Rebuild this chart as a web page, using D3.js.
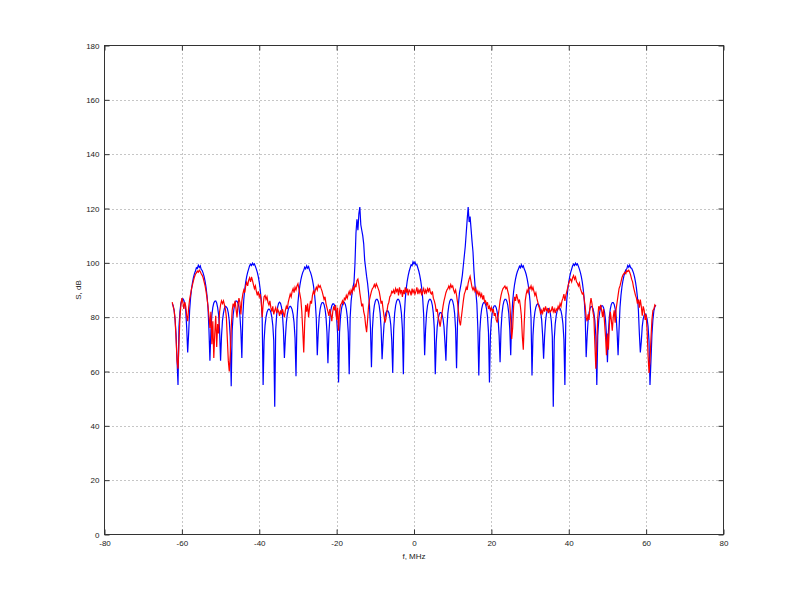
<!DOCTYPE html>
<html><head><meta charset="utf-8">
<script src="https://cdn.jsdelivr.net/npm/d3@7"></script>
<style>body{margin:0;background:#fff}svg{display:block}</style>
</head><body>
<svg id="c" width="799" height="600"></svg>
<script>
// sample grid of the spectra (MHz)
const freqStart = -62.5;
const freqStep = 0.25;

// blue spectrum, dB (one value per 0.25 MHz from -62.5 to 62.5)
const blueS = [
 85.0, 84.2, 82.5, 79.0, 73.5, 64.0, 55.0,
 76.5, 82.0, 85.2, 86.5, 86.8, 86.2, 85.0, 82.3, 76.0,
 67.0,
 74.0, 82.4, 87.2, 90.4, 92.8, 94.6, 96.0, 97.0, 98.2, 97.9, 99.1, 98.3, 98.9, 97.6, 97.2, 96.2, 94.9, 93.2, 91.0, 87.9, 83.5, 75.4,
 64.0,
 75.0, 80.7, 83.6, 85.2, 85.9, 86.0, 85.2, 83.5, 80.8, 75.2,
 64.0,
 73.2, 78.8, 81.5, 83.3, 84.0, 83.8, 83.2, 81.6, 78.7, 73.0,
 54.6,
 75.0, 80.8, 83.5, 85.3, 86.0, 85.9, 85.1, 83.7, 80.6, 75.0,
 65.0,
 80.4, 86.5, 90.2, 92.9, 94.9, 96.5, 97.7, 98.9, 99.5, 99.0, 99.9, 99.2, 99.6, 98.7, 97.7, 96.5, 94.9, 92.9, 90.2, 86.5, 80.4,
 55.0,
 71.3, 77.0, 80.0, 81.8, 82.7, 83.0, 82.7, 81.8, 80.0, 77.0, 71.3,
 47.0,
 75.3, 80.9, 83.7, 85.1, 85.5, 85.1, 83.7, 80.9, 75.3,
 65.0,
 72.3, 78.0, 81.0, 82.8, 83.7, 84.0, 83.7, 82.8, 81.0, 78.0, 72.3,
 58.3,
 79.2, 85.3, 89.0, 91.7, 93.7, 95.3, 96.5, 97.3, 98.4, 97.8, 98.9, 98.0, 98.6, 97.3, 96.5, 95.3, 93.7, 91.7, 89.0, 85.3, 79.2,
 66.0,
 74.5, 80.2, 83.1, 84.7, 85.4, 85.4, 84.7, 83.1, 80.2, 74.5,
 63.0,
 74.0, 79.7, 82.6, 84.2, 84.9, 84.9, 84.2, 82.6, 79.7, 74.0,
 56.0,
 74.5, 80.2, 83.1, 84.7, 85.4, 85.4, 84.7, 83.1, 80.2, 74.5,
 59.0,
 80, 86, 89, 91, 93, 100, 111, 116, 112, 118, 120.5, 114, 112, 110, 107, 101, 98, 95, 92.5, 89, 84, 76,
 61.6,
 75.7, 81.4, 84.3, 85.9, 86.6, 86.6, 85.9, 84.3, 81.4, 75.7,
 64.5,
 71.4, 77.1, 80.0, 81.6, 82.3, 82.3, 81.6, 80.0, 77.1, 71.4,
 59.5,
 75.7, 81.4, 84.3, 85.9, 86.6, 86.6, 85.9, 84.3, 81.4, 75.7,
 59.0,
 80.8, 86.9, 90.6, 93.3, 95.3, 96.9, 98.1, 99.3, 99.0, 100.4, 99.6, 100.3, 99.2, 99.3, 98.1, 96.9, 95.3, 93.3, 90.6, 86.9, 80.8,
 66.0,
 75.7, 81.4, 84.3, 85.9, 86.6, 86.6, 85.9, 84.3, 81.4, 75.7,
 59.0,
 70.8, 76.5, 79.4, 81.0, 81.7, 81.7, 81.0, 79.4, 76.5, 70.8,
 64.0,
 75.7, 81.4, 84.3, 85.9, 86.6, 86.6, 85.9, 84.3, 81.4, 75.7,
 61.2,
 78, 85, 89, 91, 93, 95.5, 99, 102.5, 106, 111, 116, 120.5, 115, 117, 112.5, 108, 104, 97, 92, 89, 85, 76,
 58.5,
 74.5, 80.2, 83.1, 84.7, 85.4, 85.4, 84.7, 83.1, 80.2, 74.5,
 56.0,
 73.3, 79.0, 81.9, 83.5, 84.2, 84.2, 83.5, 81.9, 79.0, 73.3,
 63.4,
 75.7, 81.4, 84.3, 85.9, 86.6, 86.6, 85.9, 84.3, 81.4, 75.7,
 66.0,
 79.6, 85.7, 89.4, 92.1, 94.1, 95.7, 96.9, 97.7, 98.8, 98.2, 99.3, 98.4, 98.9, 97.7, 96.9, 95.7, 94.1, 92.1, 89.4, 85.7, 79.6,
 58.5,
 73.2, 78.9, 81.9, 83.7, 84.6, 84.9, 84.6, 83.7, 81.9, 78.9, 73.2,
 64.7,
 72.9, 78.5, 81.3, 82.7, 83.1, 82.7, 81.3, 78.5, 72.9,
 47.0,
 71.8, 77.5, 80.5, 82.3, 83.2, 83.5, 83.2, 82.3, 80.5, 77.5, 71.8,
 55.0,
 80.4, 86.5, 90.2, 92.9, 94.9, 96.5, 97.7, 98.9, 99.5, 99.0, 99.9, 99.2, 99.6, 98.7, 97.7, 96.5, 94.9, 92.9, 90.2, 86.5, 80.4,
 65.3,
 73.0, 78.7, 81.6, 83.2, 83.9, 83.9, 83.2, 81.6, 78.7, 73.0,
 55.0,
 73.3, 79.0, 81.9, 83.5, 84.2, 84.2, 83.5, 81.9, 79.0, 73.3,
 63.4,
 74.5, 80.2, 83.1, 84.7, 85.4, 85.4, 84.7, 83.1, 80.2, 74.5,
 66.0,
 75.6, 83.7, 88.1, 91.2, 93.4, 95.1, 96.4, 97.4, 97.8, 99.0, 98.4, 99.2, 98.2, 98.0, 97.2, 96.2, 94.8, 93.0, 90.6, 87.4, 82.6, 74.0,
 67.0,
 71.0, 76.6, 79.4, 80.8, 81.2, 80.8, 79.4, 76.6, 71.0,
 55.0,
 64.0, 73.5, 79.0, 82.3, 83.8, 84.5
];

// red spectrum, dB (same sample grid)
const redS = [
 85.5, 84.0, 82.5, 79.0,  72.0, 64.0, 61.0, 70.5,  80.0, 84.5, 87.0, 85.5,  83.0, 85.5, 84.0, 80.5,
 78.5, 83.5, 86.5, 88.5,  90.5, 92.0, 93.5, 94.8,  95.8, 96.3, 97.0, 96.6,  97.3, 96.8, 96.0, 95.4,
 94.5, 93.0, 91.5, 89.5,  87.0, 84.0, 80.5, 76.0,  82.0, 70.0, 78.5, 65.0,  74.0, 80.5, 69.0, 77.5,
 74.0, 82.0, 84.5, 86.0,  85.0, 86.0, 84.5, 83.0,  80.0, 72.0, 64.0, 60.0,  66.0, 76.0, 82.5, 85.0,
 84.0, 86.0, 83.0, 80.0,  84.5, 87.0, 85.5, 81.0,  86.0, 88.5, 90.0, 89.0,  91.5, 92.8, 91.5, 93.5,
 94.5, 93.0, 94.8, 93.5,  92.0, 90.5, 91.5, 89.5,  88.0, 89.5, 87.5, 88.5,  86.0, 80.0, 84.5, 87.5,
 88.0, 86.5, 87.5, 85.5,  84.5, 86.0, 83.5, 82.0,  84.0, 81.0, 82.5, 83.5,  81.5, 83.0, 82.0, 80.5,
 82.5, 81.0, 83.0, 81.5,  80.0, 82.5, 84.0, 83.0,  85.5, 87.0, 88.5, 87.5,  89.5, 90.5, 89.0, 91.0,
 90.0, 91.5, 92.3, 90.5,  88.5, 86.5, 82.0, 75.0,  67.0, 78.0, 84.5, 82.0,  85.0, 80.0, 83.5, 86.0,
 85.0, 88.0, 89.5, 88.5,  90.0, 91.0, 90.0, 91.8,  91.0, 91.6, 90.5, 89.5,  88.0, 86.5, 87.5, 85.0,
 83.5, 82.0, 80.5, 83.0,  81.0, 78.5, 82.0, 84.0,  82.5, 84.5, 79.0, 83.5,  75.0, 82.0, 84.5, 85.0,
 86.0, 85.0, 87.0, 86.5,  88.0, 87.0, 88.5, 89.5,  88.0, 90.0, 89.0, 91.0,  90.0, 92.0, 91.0, 93.5,
 94.0, 92.0, 89.0, 86.5,  84.0, 85.0, 82.0, 80.5,  77.0, 74.5, 79.0, 84.0,  86.5, 88.0, 89.5, 90.5,
 91.0, 92.0, 91.0, 92.3,  91.5, 90.5, 89.5, 87.5,  85.0, 86.0, 83.0, 80.5,  78.0, 79.5, 82.0, 84.5,
 85.5, 87.5, 88.0, 89.5,  89.0, 90.0, 88.5, 90.5,  89.5, 90.5, 88.0, 91.0,  89.0, 90.0, 87.5, 90.0,
 88.5, 91.0, 89.0, 90.5,  88.0, 90.0, 89.5, 88.0,  90.5, 89.0, 90.0, 88.5,  89.5, 91.0, 88.5, 90.0,
 89.0, 90.5, 88.0, 89.5,  90.5, 88.5, 90.0, 89.0,  90.5, 89.5, 90.8, 89.0,  88.5, 89.5, 87.0, 86.0,
 84.5, 82.0, 83.0, 80.0,  78.5, 76.5, 79.0, 81.5,  84.0, 86.0, 87.5, 89.0,  90.0, 90.5, 91.5, 90.5,
 92.0, 91.0, 91.5, 90.0,  89.0, 90.0, 88.0, 85.5,  82.0, 78.5, 77.0, 80.0,  83.0, 86.0, 88.5, 89.5,
 91.0, 90.0, 92.5, 94.0,  95.0, 93.0, 91.0, 90.0,  91.0, 89.5, 90.5, 88.5,  89.5, 88.0, 89.0, 87.5,
 88.5, 86.5, 88.0, 85.5,  86.0, 84.5, 85.5, 83.0,  84.0, 82.5, 83.5, 82.0,  83.0, 80.5, 81.5, 79.0,
 78.0, 80.5, 83.0, 86.0,  88.0, 89.5, 90.5, 91.0,  91.5, 90.5, 91.0, 89.5,  88.0, 85.0, 79.0, 72.0,
 76.0, 84.0, 87.5, 86.0,  88.5, 87.0, 85.5, 86.5,  84.0, 80.5, 73.0, 68.0,  78.0, 86.0, 88.5, 90.0,
 89.0, 91.0, 90.5, 91.5,  90.0, 91.0, 89.5, 88.0,  89.0, 87.0, 85.5, 84.0,  83.0, 81.0, 82.5, 81.5,
 83.5, 82.0, 84.0, 82.5,  83.0, 81.5, 83.0, 82.0,  82.5, 84.0, 82.0, 83.0,  81.5, 83.0, 82.5, 84.0,
 83.0, 85.0, 84.0, 86.0,  87.0, 88.5, 86.0, 88.0,  89.5, 91.0, 92.5, 93.5,  94.0, 93.0, 94.5, 95.3,
 94.0, 94.8, 93.0, 92.5,  91.5, 92.5, 90.5, 89.5,  88.5, 89.0, 86.5, 84.0,  80.0, 78.5, 81.0, 79.0,
 84.5, 87.0, 85.0, 82.0,  80.0, 70.0, 61.0, 70.0,  80.0, 84.0, 83.0, 84.5,  82.5, 80.0, 83.0, 78.0,
 73.0, 66.0, 74.0, 68.0,  77.0, 82.0, 79.0, 75.0,  80.0, 82.5, 78.0, 83.0,  85.5, 88.0, 90.5, 91.5,
 93.0, 94.5, 95.5, 96.0,  96.5, 96.0, 97.2, 96.8,  97.3, 96.5, 95.5, 94.0,  93.0, 91.0, 89.5, 88.0,
 87.0, 85.0, 86.5, 83.5,  86.5, 84.0, 80.5, 84.0,  82.5, 79.0, 81.0, 75.0,  66.0, 59.5, 64.0, 72.0,
 79.0, 82.5, 83.0, 84.5,  84.0
];

const xTicks = [-80, -60, -40, -20, 0, 20, 40, 60, 80];
const yTicks = [0, 20, 40, 60, 80, 100, 120, 140, 160, 180];
const xLabel = "f, MHz";
const yLabel = "S, dB";

const svg = d3.select("#c");
const x = d3.scaleLinear().domain([-80, 80]).range([104.5, 723.5]);
const y = d3.scaleLinear().domain([0, 180]).range([534.5, 45.5]);
const font = "'Liberation Sans', Arial, sans-serif";

svg.append("rect").attr("width", 799).attr("height", 600).attr("fill", "#fff");

// grid
const grid = svg.append("g").attr("stroke", "#8c8c8c").attr("stroke-width", 1).attr("stroke-dasharray", "1,3");
grid.selectAll(".gx").data(xTicks.slice(1, -1)).join("line")
  .attr("x1", d => Math.round(x(d)) + 0.5).attr("x2", d => Math.round(x(d)) + 0.5)
  .attr("y1", y(0)).attr("y2", y(180));
grid.selectAll(".gy").data(yTicks.slice(1, -1)).join("line")
  .attr("y1", d => Math.round(y(d)) + 0.5).attr("y2", d => Math.round(y(d)) + 0.5)
  .attr("x1", x(-80)).attr("x2", x(80));

// data lines
svg.append("clipPath").attr("id", "clip").append("rect")
  .attr("x", x(-80)).attr("y", y(180)).attr("width", x(80) - x(-80)).attr("height", y(0) - y(180));
const line = d3.line().x((d, i) => x(freqStart + i * freqStep)).y(d => y(d));
const plot = svg.append("g").attr("clip-path", "url(#clip)");
plot.append("path").datum(blueS).attr("d", line).attr("fill", "none").attr("stroke", "#0000ff").attr("stroke-width", 1.2);
plot.append("path").datum(redS).attr("d", line).attr("fill", "none").attr("stroke", "#ff0000").attr("stroke-width", 1.2);

// axes
const fmt = d => String(d);
function styleAxis(g) {
  g.select(".domain").remove();
  g.selectAll("line").attr("stroke", "#333");
  g.selectAll("text").attr("fill", "#222").style("font-family", font).style("font-size", "8px");
}
svg.append("g").attr("transform", `translate(0,${y(0)})`)
  .call(d3.axisBottom(x).tickValues(xTicks).tickFormat(fmt).tickSizeInner(-5).tickSizeOuter(0).tickPadding(6))
  .call(styleAxis);
svg.append("g").attr("transform", `translate(0,${y(180)})`)
  .call(d3.axisTop(x).tickValues(xTicks).tickFormat("").tickSizeInner(-5).tickSizeOuter(0))
  .call(styleAxis);
svg.append("g").attr("transform", `translate(${x(-80)},0)`)
  .call(d3.axisLeft(y).tickValues(yTicks).tickFormat(fmt).tickSizeInner(-5).tickSizeOuter(0).tickPadding(5))
  .call(styleAxis);
svg.append("g").attr("transform", `translate(${x(80)},0)`)
  .call(d3.axisRight(y).tickValues(yTicks).tickFormat("").tickSizeInner(-5).tickSizeOuter(0))
  .call(styleAxis);

// box
svg.append("rect").attr("x", x(-80)).attr("y", y(180))
  .attr("width", x(80) - x(-80)).attr("height", y(0) - y(180))
  .attr("fill", "none").attr("stroke", "#333").attr("stroke-width", 1);

// axis labels
svg.append("text").attr("x", (x(-80) + x(80)) / 2).attr("y", 559)
  .attr("text-anchor", "middle").attr("fill", "#222")
  .style("font-family", font).style("font-size", "8px").text(xLabel);
svg.append("text").attr("transform", `translate(81,${(y(0) + y(180)) / 2}) rotate(-90)`)
  .attr("text-anchor", "middle").attr("fill", "#222")
  .style("font-family", font).style("font-size", "8px").text(yLabel);
</script>
</body></html>
